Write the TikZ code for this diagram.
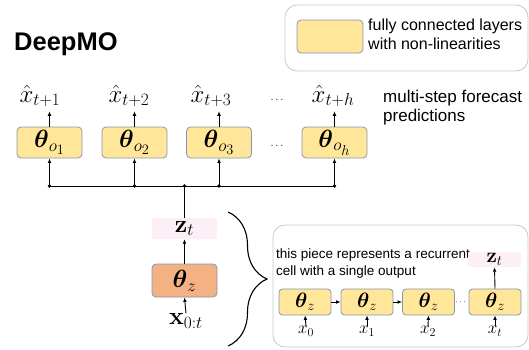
\documentclass[tikz,border=0pt]{standalone}
\usepackage{amsmath}
\usepackage[no-math]{fontspec}
\setmainfont{Liberation Sans}
\usetikzlibrary{arrows.meta,decorations.pathreplacing}
\definecolor{fcyel}{HTML}{FFE699}
\definecolor{fcedge}{RGB}{132,151,176}
\definecolor{zorange}{HTML}{F4B183}
\definecolor{zpink}{HTML}{FCEFF6}
\definecolor{legedge}{HTML}{C8C8C8}
\begin{document}
\begin{tikzpicture}[x=1pt,y=-1pt,
  fc/.style={draw=fcedge, fill=fcyel, rounded corners=4pt, line width=0.8pt,
    minimum width=65pt, minimum height=31pt, inner sep=0pt, font=\fontsize{27}{30}\selectfont},
  fcs/.style={draw=fcedge, fill=fcyel, rounded corners=3.5pt, line width=0.8pt,
    minimum width=52pt, minimum height=26pt, inner sep=0pt, font=\fontsize{22}{24}\selectfont},
  zbox/.style={draw=fcedge, fill=zorange, rounded corners=4pt, line width=0.8pt,
    minimum width=65pt, minimum height=33pt, inner sep=0pt, font=\fontsize{27}{30}\selectfont},
  pinkbox/.style={fill=zpink, rounded corners=2pt, inner sep=0pt},
  lab/.style={inner sep=0pt, font=\fontsize{27}{30}\selectfont},
  slab/.style={inner sep=0pt, font=\fontsize{17}{19}\selectfont},
  txt/.style={inner sep=0pt, align=left, anchor=west},
  arr/.style={-{Latex[length=4.5pt,width=3.8pt]}, line width=0.9pt},
  bus/.style={line width=0.9pt},
  roundframe/.style={draw=legedge, line width=0.8pt, rounded corners=12pt},
  dotsty/.style={inner sep=0pt, font=\fontsize{11}{12}\selectfont}
]
\useasboundingbox (0,0) rectangle (529,349);

% title
\node[txt, font=\fontsize{25.5}{28}\selectfont\bfseries] (title) at (14,44) {DeepMO};

% legend
\draw[roundframe] (285,5) rectangle (528,71);
\node[draw=fcedge, fill=fcyel, rounded corners=4pt, line width=0.8pt,
  minimum width=66pt, minimum height=33pt, inner sep=0pt] (legsample) at (330,36.5) {};
\node[txt, font=\fontsize{16}{19}\selectfont] (legtext) at (368,34.5)
  {fully connected layers\\with non-linearities};

% output boxes
\node[fc] (o1) at (49.5,142.5) {$\boldsymbol{\theta}_{o_1}$};
\node[fc] (o2) at (134.5,142.5) {$\boldsymbol{\theta}_{o_2}$};
\node[fc] (o3) at (219,142.5) {$\boldsymbol{\theta}_{o_3}$};
\node[fc] (oh) at (334.5,142.5) {$\boldsymbol{\theta}_{o_h}$};
\node[dotsty, anchor=base] (odots) at (277,146) {$\ldots$};

% output labels
\node[lab] (y1) at (40,96) {$\hat{x}_{t+1}$};
\node[lab] (y2) at (129,96) {$\hat{x}_{t+2}$};
\node[lab] (y3) at (211,96) {$\hat{x}_{t+3}$};
\node[lab] (yh) at (333,96) {$\hat{x}_{t+h}$};
\node[dotsty, anchor=base] (ydots) at (277,100) {$\ldots$};

\draw[arr, shorten >=4pt] (o1.north) -- (o1.north |- y1.south);
\draw[arr, shorten >=4pt] (o2.north) -- (o2.north |- y2.south);
\draw[arr, shorten >=4pt] (o3.north) -- (o3.north |- y3.south);
\draw[arr, shorten >=4pt] (oh.north) -- (oh.north |- yh.south);

\node[txt, font=\fontsize{17}{19}\selectfont] (fctext) at (383,107.5)
  {multi-step forecast\\predictions};

% encoder
\node[pinkbox, minimum width=65pt, minimum height=21pt, font=\fontsize{24}{26}\selectfont] (zt) at (184.5,228.5) {$\mathbf{z}_t$};
\node[zbox] (thz) at (184.5,280.5) {$\boldsymbol{\theta}_z$};
\node[lab, font=\fontsize{24}{26}\selectfont] (x0t) at (186,321) {$\mathbf{x}_{0:t}$};
\draw[arr] (thz.north) -- (zt.south);
\draw[arr] (x0t.north) -- (thz.south);

% bus
\coordinate (busy) at (0,186);
\coordinate (j1) at (o1.south |- busy);
\coordinate (j2) at (o2.south |- busy);
\coordinate (jz) at (zt.north |- busy);
\coordinate (j3) at (o3.south |- busy);
\coordinate (jh) at (oh.south |- busy);
\draw[bus] (j1) -- (jh);
\draw[bus] (jz) -- (zt.north);
\draw[arr] (j1) -- (o1.south);
\draw[arr] (j2) -- (o2.south);
\draw[arr] (j3) -- (o3.south);
\draw[arr] (jh) -- (oh.south);
\foreach \j in {j1,j2,jz,j3,jh} \fill (\j) circle (1.9pt);

% brace
\coordinate (bt) at (228,212);
\coordinate (bb) at (228,346);
\draw[line width=1.1pt, decorate, decoration={brace, amplitude=39pt}] (bt) -- (bb);

% recurrent cell frame
\draw[roundframe] (273,225) rectangle (528,347);
\node[txt, font=\fontsize{13.5}{17}\selectfont] (rtext) at (276,263.5)
  {this piece represents a recurrent\\cell with a single output};

\node[fcs] (c1) at (305,302) {$\boldsymbol{\theta}_z$};
\node[fcs] (c2) at (367,302) {$\boldsymbol{\theta}_z$};
\node[fcs] (c3) at (428.5,302) {$\boldsymbol{\theta}_z$};
\node[fcs] (c4) at (495,302) {$\boldsymbol{\theta}_z$};
\node[dotsty, font=\fontsize{9}{10}\selectfont] (cdots) at (461.5,302) {$\cdots$};
\draw[arr] (c1) -- (c2);
\draw[arr] (c2) -- (c3);

\node[pinkbox, minimum width=53pt, minimum height=15pt, font=\fontsize{20}{22}\selectfont] (zs) at (494.5,259.5) {$\mathbf{z}_t$};
\draw[arr] (c4.north) -- (zs.south);

\node[slab] (x0) at (306,331) {$x_0$};
\node[slab] (x1) at (367,331) {$x_1$};
\node[slab] (x2) at (428,331) {$x_2$};
\node[slab] (xt) at (495,331) {$x_t$};
\draw[arr] (x0.north) -- (c1.south);
\draw[arr] (x1.north) -- (c2.south);
\draw[arr] (x2.north) -- (c3.south);
\draw[arr] (xt.north) -- (c4.south);
\end{tikzpicture}
\end{document}
